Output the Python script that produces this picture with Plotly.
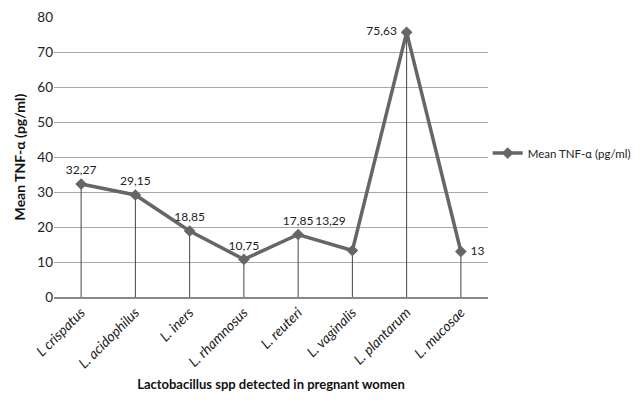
import plotly.graph_objects as go

categories = ["L crispatus", "L. acidophilus", "L. iners", "L. rhamnosus",
              "L. reuteri", "L. vaginalis", "L. plantarum", "L. mucosae"]
values = [32.27, 29.15, 18.85, 10.75, 17.85, 13.29, 75.63, 13]
labels = ["32,27", "29,15", "18,85", "10,75", "17,85", "13,29<br>&nbsp;", "75,63 ", " 13"]
label_pos = ["top center", "top center", "top center", "top center",
             "top center", "top left", "middle left", "middle right"]
y_ticks = [0, 10, 20, 30, 40, 50, 60, 70, 80]

font_fam = "Lato, Liberation Sans, Arial, sans-serif"

fig = go.Figure()
fig.add_trace(go.Scatter(
    x=categories, y=values, mode="lines+markers+text",
    name="Mean TNF-α (pg/ml)",
    line=dict(color="#666666", width=3.5),
    marker=dict(symbol="diamond", size=9, color="#666666"),
    text=labels, textposition=label_pos,
    textfont=dict(size=12, color="#222222", family=font_fam),
    error_y=dict(type="data", symmetric=False, array=[0]*len(values),
                 arrayminus=values, color="#444444", thickness=1, width=0),
    cliponaxis=False,
))

fig.update_layout(
    width=640, height=405,
    margin=dict(l=54, r=152, t=17, b=108, autoexpand=False),
    paper_bgcolor="white", plot_bgcolor="white",
    font=dict(family=font_fam, color="#222222", size=12),
    showlegend=True,
    legend=dict(xref="container", yref="container", x=0.762, y=0.622,
                xanchor="left", yanchor="middle", itemwidth=30,
                font=dict(size=11.5, color="#222222"), bgcolor="rgba(0,0,0,0)"),
    xaxis=dict(
        type="category", tickangle=-45, showgrid=False,
        showline=True, linecolor="#888888", linewidth=1.5,
        ticks="", tickfont=dict(size=14, color="#222222", family=font_fam),
        title=dict(text="<b>Lactobacillus spp detected in pregnant women</b>",
                   font=dict(size=13, color="#111111"), standoff=10),
        range=[-0.5, len(categories) - 0.5],
    ),
    yaxis=dict(
        range=[0, 80], tickvals=y_ticks, showgrid=True,
        gridcolor="#a8a8a8", gridwidth=1.2, zeroline=False,
        ticks="", tickfont=dict(size=13.5, color="#222222"),
        title=dict(text="<b>Mean TNF-α (pg/ml)</b>",
                   font=dict(size=14, color="#111111"), standoff=8),
    ),
)
fig.update_xaxes(ticktext=["<i>" + c + "</i>" for c in categories],
                 tickvals=categories)

fig.write_html("out.html")
